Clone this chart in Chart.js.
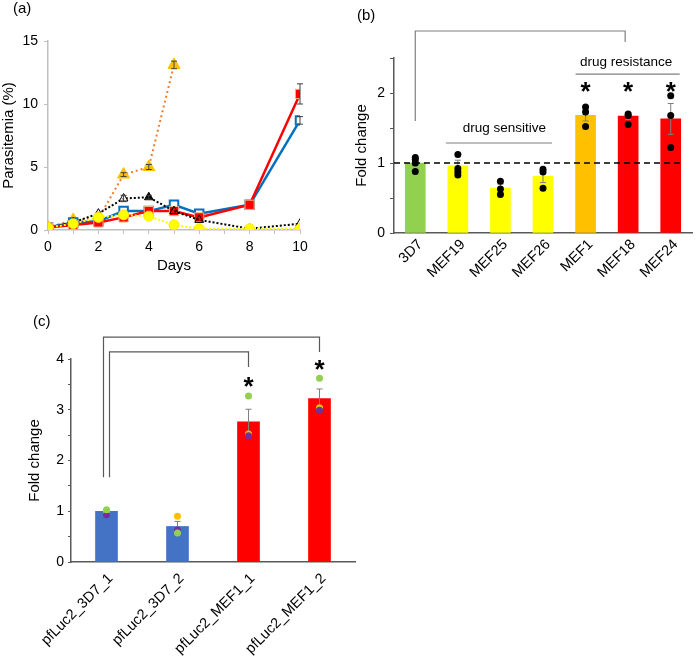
<!DOCTYPE html>
<html><head><meta charset="utf-8">
<script src="https://cdn.jsdelivr.net/npm/chart.js@4"></script>
<style>
body{margin:0;background:#fff;width:696px;height:657px;position:relative;overflow:hidden;font-family:"Liberation Sans",Arial,sans-serif}
.box{position:absolute}
.lab{position:absolute;font-size:15px;line-height:15px;color:#000}
</style></head><body>
<div class="box" style="left:0;top:0;width:340px;height:285px"><canvas id="ca"></canvas></div>
<div class="box" style="left:340px;top:0;width:356px;height:290px"><canvas id="cb"></canvas></div>
<div class="box" style="left:0;top:290px;width:500px;height:367px"><canvas id="cc"></canvas></div>
<div class="lab" style="left:13px;top:0px">(a)</div>
<div class="lab" style="left:357px;top:7px">(b)</div>
<div class="lab" style="left:33px;top:313px">(c)</div>
<script>
// ---------- Panel (a) data ----------
const daysA = [0,1,2,3,4,5,6,8,10];
const daysOrange = [0,1,2,3,4,5];
const orangeVals = [0.2,0.8,0.9,4.4,5.0,13.1];
const orangeErr  = [0,0,0,0.15,0.2,0.3];
const blackVals  = [0.2,0.6,1.3,2.5,2.6,1.5,0.8,0.1,0.5];
const blackErr   = [0,0,0,0.25,0.15,0,0,0,0];
const blueVals   = [0.2,0.6,0.7,1.5,1.5,2.0,1.3,2.0,8.7];
const blueErr    = [0,0,0,0,0,0,0,0,0.3];
const redVals    = [0.2,0.4,0.6,1.0,1.5,1.5,1.0,2.0,10.8];
const redErr     = [0,0,0,0,0,0,0,0,0.8];
const yellowVals = [0.2,0.5,1.0,1.2,1.1,0.4,0.1,0.1,0.1];
const yellowErr  = [0,0,0,0,0,0,0,0,0];

// ---------- Panel (b) data ----------
const catsB  = ['3D7','MEF19','MEF25','MEF26','MEF1','MEF18','MEF24'];
const meansB = [1.0,0.96,0.64,0.81,1.68,1.67,1.63];
const semB   = [0.04,0.08,0.06,0.09,0.08,0.05,0.22];
const repsB  = [[1.08,1.05,1.0,0.88],[1.12,0.92,0.87,0.83],[0.74,0.63,0.55],[0.91,0.87,0.64],[1.8,1.73,1.52],[1.7,1.68,1.55],[1.96,1.68,1.22]];
const colorsB = ['#92D050','#FFFF00','#FFFF00','#FFFF00','#FFC000','#FF0000','#FF0000'];

// ---------- Panel (c) data ----------
const catsC  = ['pfLuc2_3D7_1','pfLuc2_3D7_2','pfLuc2_MEF1_1','pfLuc2_MEF1_2'];
const meansC = [1.0,0.70,2.76,3.22];
const semC   = [0.03,0.10,0.25,0.19];
const repGreenC  = [1.03,0.57,3.27,3.62];
const repPurpleC = [0.93,0.63,2.49,2.99];
const repOrangeC = [0.98,0.90,2.52,3.04];
const colorsC = ['#4472C4','#4472C4','#FF0000','#FF0000'];

Chart.defaults.font.family = "'Liberation Sans', Arial, sans-serif";
Chart.defaults.color = '#000';

function pts(xs, ys){ return xs.map((x,i)=>({x:x,y:ys[i]})); }
function drawErr(ctx,x,yTop,yBot,cap,color,lw){
  ctx.save(); ctx.strokeStyle=color; ctx.lineWidth=lw; ctx.beginPath();
  ctx.moveTo(x,yTop); ctx.lineTo(x,yBot);
  ctx.moveTo(x-cap,yTop); ctx.lineTo(x+cap,yTop);
  ctx.moveTo(x-cap,yBot); ctx.lineTo(x+cap,yBot);
  ctx.stroke(); ctx.restore();
}
function poly(ctx, points, color, lw){
  ctx.save(); ctx.strokeStyle=color; ctx.lineWidth=lw; ctx.beginPath();
  points.forEach((p,i)=> i? ctx.lineTo(p[0],p[1]) : ctx.moveTo(p[0],p[1]));
  ctx.stroke(); ctx.restore();
}
function star(ctx,x,y,size){
  ctx.save(); ctx.fillStyle='#000'; ctx.font='bold '+size+'px "Liberation Sans", Arial';
  ctx.textAlign='center'; ctx.textBaseline='middle'; ctx.fillText('*',x,y+size*0.22); ctx.restore();
}
function text(ctx,str,x,y,size){
  ctx.save(); ctx.fillStyle='#000'; ctx.font=size+'px "Liberation Sans", Arial';
  ctx.textAlign='center'; ctx.textBaseline='middle'; ctx.fillText(str,x,y); ctx.restore();
}

// ---------- Chart (a) ----------
const errPluginA = {id:'errA', afterDatasetsDraw(chart){
  const ctx=chart.ctx, ys=chart.scales.y;
  chart.data.datasets.forEach((ds,di)=>{
    const meta=chart.getDatasetMeta(di);
    ds.errors.forEach((e,i)=>{
      if(!e) return;
      const v=ds.data[i].y, x=meta.data[i].x;
      drawErr(ctx,x,ys.getPixelForValue(v+e),ys.getPixelForValue(v-e),3,'#404040',1);
    });
  });
}};
new Chart(document.getElementById('ca'),{
  type:'line',
  data:{datasets:[
    {data:pts(daysA,yellowVals), errors:yellowErr, borderColor:'#FFFF00', borderDash:[2,2], borderWidth:2, pointStyle:'circle', pointRadius:5, pointBackgroundColor:'#FFFF00', pointBorderColor:'#FFE600', pointBorderWidth:1},
    {data:pts(daysA,blackVals), errors:blackErr, borderColor:'#000', borderDash:[2,2], borderWidth:2, pointStyle:'triangle', pointRadius:5, pointBackgroundColor:['rgba(0,0,0,0)','rgba(0,0,0,0)','rgba(0,0,0,0)','rgba(255,255,255,0.6)','#000','rgba(0,0,0,0)','rgba(0,0,0,0)','rgba(0,0,0,0)','rgba(0,0,0,0)'], pointBorderColor:'#000', pointBorderWidth:1},
    {data:pts(daysA,redVals), errors:redErr, borderColor:'#FF0000', borderWidth:2.5, pointStyle:'rect', pointRadius:6.5, pointBackgroundColor:'#FF0000', pointBorderColor:'#F4B183', pointBorderWidth:1},
    {data:pts(daysA,blueVals), errors:blueErr, borderColor:'#0070C0', borderWidth:2.5, pointStyle:'rect', pointRadius:6, pointBackgroundColor:'#FFFFFF', pointBorderColor:'#0070C0', pointBorderWidth:2},
    {data:pts(daysOrange,orangeVals), errors:orangeErr, borderColor:'#ED7D31', borderDash:[2,3], borderWidth:2, pointStyle:'triangle', pointRadius:7, pointBackgroundColor:'#FFC000', pointBorderColor:'#FFC000', pointBorderWidth:1}
  ]},
  options:{
    responsive:true, maintainAspectRatio:false, animation:false,
    layout:{padding:{left:0,right:40,top:41,bottom:8}},
    plugins:{legend:{display:false}, tooltip:{enabled:false}},
    scales:{
      x:{type:'linear', min:0, max:10,
        ticks:{stepSize:1, autoSkip:false, maxRotation:0, callback:v=> v%2===0 ? v : '', font:{size:14}, color:'#000', padding:5},
        grid:{drawOnChartArea:false, tickLength:4, color:'#BFBFBF'},
        border:{color:'#BFBFBF', width:1.5},
        title:{display:true, text:'Days', font:{size:15}, color:'#000', padding:{top:0,bottom:2}},
        afterFit:s=>{s.height=47;}},
      y:{min:0, max:15,
        ticks:{stepSize:5, font:{size:14}, color:'#000', padding:6},
        grid:{drawOnChartArea:false, tickLength:4, color:'#BFBFBF'},
        border:{color:'#BFBFBF', width:1.5},
        title:{display:true, text:'Parasitemia (%)', font:{size:15}, color:'#000', padding:{top:0,bottom:0}},
        afterFit:s=>{s.width=48;}}
    }
  },
  plugins:[errPluginA]
});

// ---------- Chart (b) ----------
const annB = {id:'annB',
  afterDatasetDraw(chart,args){
    if(args.index!==1) return;
    const ctx=chart.ctx, ys=chart.scales.y, meta=chart.getDatasetMeta(1);
    meansB.forEach((m,i)=>{
      const x=meta.data[i].x;
      drawErr(ctx,x,ys.getPixelForValue(m+semB[i]),ys.getPixelForValue(m-semB[i]),3,'#7F7F7F',1);
    });
  },
  afterDraw(chart){
    const ctx=chart.ctx, xs=chart.scales.x, ys=chart.scales.y, a=chart.chartArea;
    const cx=i=>xs.getPixelForValue(i), py=v=>ys.getPixelForValue(v);
    ctx.save(); ctx.setLineDash([6,4]); ctx.strokeStyle='#000'; ctx.lineWidth=1.5;
    ctx.beginPath(); ctx.moveTo(a.left,py(1)); ctx.lineTo(a.right-8,py(1)); ctx.stroke(); ctx.restore();
    poly(ctx,[[cx(0),py(1.6)],[cx(0),py(2.886)],[cx(5)-3,py(2.886)],[cx(5)-3,py(2.73)]],'#808080',1.2);
    text(ctx,'drug sensitive',cx(2)+4,py(1.5),13.5);
    poly(ctx,[[cx(1)-12,py(1.286)],[cx(3)+9,py(1.286)]],'#808080',1.2);
    text(ctx,'drug resistance',cx(5)-2,py(2.44),13.5);
    poly(ctx,[[cx(4)-10,py(2.27)],[cx(6)+9,py(2.27)]],'#808080',1.2);
    [4,5,6].forEach(i=>star(ctx,cx(i),py(2.09),26));
  }
};
const scatterB = [];
repsB.forEach((arr,i)=>arr.forEach(v=>scatterB.push({x:catsB[i],y:v})));
new Chart(document.getElementById('cb'),{
  type:'bar',
  data:{labels:catsB, datasets:[
    {type:'line', data:scatterB, showLine:false, pointRadius:3.5, pointBackgroundColor:'#000', pointBorderColor:'#000', pointBorderWidth:0},
    {type:'bar', data:meansB, backgroundColor:colorsB, barThickness:20, borderWidth:0}
  ]},
  options:{
    responsive:true, maintainAspectRatio:false, animation:false,
    layout:{padding:{left:0,right:1,top:58,bottom:0}},
    plugins:{legend:{display:false}, tooltip:{enabled:false}},
    scales:{
      x:{type:'category', offset:true,
        ticks:{autoSkip:false, minRotation:45, maxRotation:45, font:{size:14.5}, color:'#000', padding:3, labelOffset:5},
        grid:{display:false, drawTicks:false},
        border:{color:'#595959', width:1.5},
        afterFit:s=>{s.height=57;}},
      y:{min:0, max:2.5,
        ticks:{stepSize:0.5, callback:v=> Number.isInteger(v) ? v : '', font:{size:14}, color:'#000', padding:5},
        grid:{drawOnChartArea:false, tickLength:4, color:'#595959'},
        border:{color:'#595959', width:1.5},
        title:{display:true, text:'Fold change', font:{size:15}, color:'#000', padding:{top:13,bottom:0}},
        afterFit:s=>{s.width=54;}}
    }
  },
  plugins:[annB]
});

// ---------- Chart (c) ----------
const annC = {id:'annC',
  afterDatasetDraw(chart,args){
    if(args.index!==3) return;
    const ctx=chart.ctx, ys=chart.scales.y, meta=chart.getDatasetMeta(3);
    meansC.forEach((m,i)=>{
      const x=meta.data[i].x;
      drawErr(ctx,x,ys.getPixelForValue(m+semC[i]),ys.getPixelForValue(m-semC[i]),3,'#7F7F7F',1);
    });
  },
  afterDraw(chart){
    const ctx=chart.ctx, xs=chart.scales.x, ys=chart.scales.y;
    const cx=i=>xs.getPixelForValue(i), py=v=>ys.getPixelForValue(v);
    poly(ctx,[[cx(0)-3,py(1.67)],[cx(0)-3,py(4.43)],[cx(3),py(4.43)],[cx(3),py(4.14)]],'#595959',1.2);
    poly(ctx,[[cx(0)+3,py(1.67)],[cx(0)+3,py(4.14)],[cx(2),py(4.14)],[cx(2),py(3.84)]],'#595959',1.2);
    star(ctx,cx(2),py(3.55),26);
    star(ctx,cx(3),py(3.88),26);
  }
};
new Chart(document.getElementById('cc'),{
  type:'bar',
  data:{labels:catsC, datasets:[
    {type:'line', data:repGreenC, showLine:false, pointRadius:3.5, pointBackgroundColor:'#92D050', pointBorderWidth:0},
    {type:'line', data:repPurpleC, showLine:false, pointRadius:3.5, pointBackgroundColor:'#7030A0', pointBorderWidth:0},
    {type:'line', data:repOrangeC, showLine:false, pointRadius:3.5, pointBackgroundColor:'#FFC000', pointBorderWidth:0},
    {type:'bar', data:meansC, backgroundColor:colorsC, barThickness:22, borderWidth:0}
  ]},
  options:{
    responsive:true, maintainAspectRatio:false, animation:false,
    layout:{padding:{left:0,right:145,top:69,bottom:0}},
    plugins:{legend:{display:false}, tooltip:{enabled:false}},
    scales:{
      x:{type:'category', offset:true,
        ticks:{autoSkip:false, minRotation:45, maxRotation:45, font:{size:14.5}, color:'#000', padding:8, labelOffset:4},
        grid:{display:false, drawTicks:false},
        border:{color:'#595959', width:1.5},
        afterFit:s=>{s.height=95;}},
      y:{min:0, max:4,
        ticks:{stepSize:0.5, callback:v=> Number.isInteger(v) ? v : '', font:{size:14}, color:'#000', padding:4},
        grid:{drawOnChartArea:false, tickLength:3, color:'#595959'},
        border:{color:'#595959', width:1.5},
        title:{display:true, text:'Fold change', font:{size:15}, color:'#000', padding:{top:26,bottom:0}},
        afterFit:s=>{s.width=71;}}
    }
  },
  plugins:[annC]
});
</script>
</body></html>
